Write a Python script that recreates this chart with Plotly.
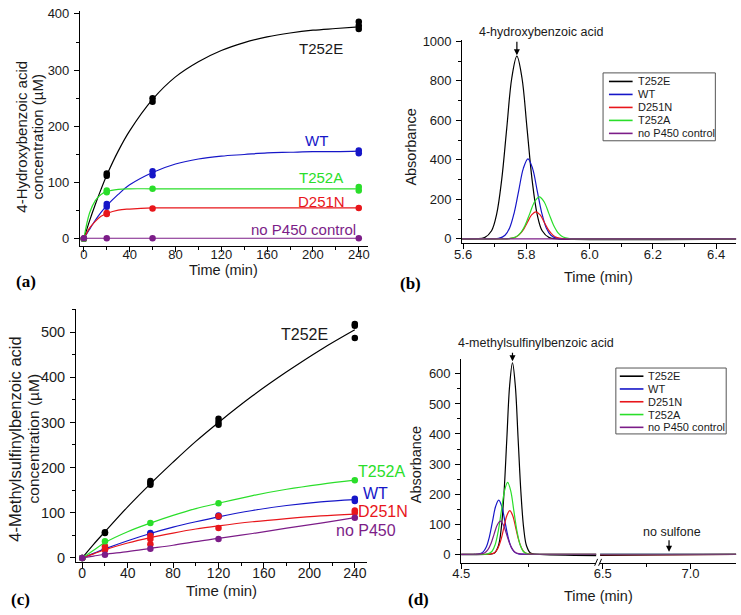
import plotly.graph_objects as go

W, H = 741, 615
FONT = "Liberation Sans, Arial, sans-serif"
SERIF = "Liberation Serif, Times New Roman, serif"
INK = "#1a1a1a"

names = ["T252E", "WT", "D251N", "T252A", "no P450 control"]
colors = ["#000000", "#1616c8", "#e8161b", "#2ade2a", "#7c1d88"]

# ---------------- (a) 4-hydroxybenzoic acid, replicate points
a_T252E_t = [0, 20, 20, 60, 60, 240, 240, 240]
a_T252E_y = [0, 112, 116, 244, 250, 373, 379, 386]
a_WT_t = [0, 20, 20, 60, 60, 240, 240]
a_WT_y = [0, 57, 62, 113, 120, 152, 157]
a_D251N_t = [0, 20, 20, 60, 240]
a_D251N_y = [0, 44, 46, 54, 55]
a_T252A_t = [0, 20, 20, 60, 240, 240]
a_T252A_y = [0, 83, 86, 89, 86, 92]
a_noP450_t = [0, 20, 60, 240]
a_noP450_y = [1, 1, 1, 1]

# fitted curves
a_fit_t = [0, 5, 10, 15, 20, 30, 40, 60, 80, 100, 120, 140, 160, 180, 200, 220, 240]
a_fit_T252E = [0, 32, 61, 88, 113, 156, 192, 248, 288, 315, 335, 349, 359, 366, 371, 374, 377]
a_fit_WT = [0, 17, 33, 47, 59, 79, 96, 118, 133, 142, 147, 150, 153, 154, 155, 155, 156]
a_fit_D251N = [0, 19, 31, 40, 45, 51, 53, 55, 55, 55, 55, 55, 55, 55, 55, 55, 55]
a_fit_T252A = [0, 46, 68, 79, 84, 88, 89, 89, 89, 89, 89, 89, 89, 89, 89, 89, 89]
a_fit_noP450 = [1, 1, 1, 1, 1, 1, 1, 1, 1, 1, 1, 1, 1, 1, 1, 1, 1]

# ---------------- (c) 4-methylsulfinylbenzoic acid, replicate points
c_T252E_t = [0, 20, 20, 60, 60, 60, 120, 120, 120, 240, 240, 240]
c_T252E_y = [0, 55, 57, 162, 166, 170, 295, 301, 308, 487, 514, 518]
c_WT_t = [0, 20, 60, 60, 120, 120, 240, 240]
c_WT_y = [0, 19, 53, 55, 91, 94, 126, 131]
c_D251N_t = [0, 20, 20, 60, 60, 60, 120, 120, 240, 240]
c_D251N_y = [0, 18, 26, 30, 42, 49, 66, 92, 100, 105]
c_T252A_t = [0, 20, 60, 120, 240]
c_T252A_y = [0, 37, 77, 121, 172]
c_noP450_t = [0, 20, 60, 120, 240]
c_noP450_y = [0, 7, 20, 42, 89]

c_fit_t = [0, 10, 20, 40, 60, 80, 100, 120, 150, 180, 210, 240]
c_fit_T252E = [0, 30, 58, 113, 164, 212, 258, 300, 359, 412, 461, 505]
c_fit_WT = [0, 10, 20, 38, 54, 68, 80, 91, 105, 116, 124, 129]
c_fit_D251N = [0, 9, 18, 33, 45, 55, 64, 71, 80, 87, 93, 97]
c_fit_T252A = [0, 17, 34, 58, 77, 94, 109, 121, 138, 152, 163, 172]
c_fit_noP450 = [0, 4, 8, 14, 21, 28, 36, 43, 54, 66, 77, 89]

# ---------------- (b) chromatograms, 4-hydroxybenzoic acid
b_T252E_t = [5.50, 5.640, 5.6676, 5.690, 5.706, 5.722, 5.738, 5.754, 5.770, 5.786, 5.802, 5.818, 5.834, 5.850, 5.8724, 5.900, 6.60]
b_T252E_y = [0, 0, 6, 41, 125, 300, 561, 816, 925, 816, 561, 300, 125, 41, 6, 0, 0]
b_WT_t = [5.50, 5.690, 5.7122, 5.7325, 5.747, 5.7615, 5.776, 5.7905, 5.805, 5.8195, 5.834, 5.8485, 5.863, 5.8775, 5.8978, 5.920, 6.60]
b_WT_y = [0, 0, 2, 18, 55, 132, 246, 357, 405, 357, 246, 132, 55, 18, 2, 0, 0]
b_D251N_t = [5.50, 5.720, 5.7436, 5.7625, 5.776, 5.7895, 5.803, 5.8165, 5.830, 5.8435, 5.857, 5.8705, 5.884, 5.8975, 5.9164, 5.940, 6.60]
b_D251N_y = [0, 0, 1, 6, 19, 44, 83, 121, 137, 121, 83, 44, 19, 6, 1, 0, 0]
b_T252A_t = [5.50, 5.720, 5.745, 5.766, 5.781, 5.796, 5.811, 5.826, 5.841, 5.856, 5.871, 5.886, 5.901, 5.916, 5.937, 5.960, 6.60]
b_T252A_y = [0, 0, 1, 9, 29, 69, 129, 188, 213, 188, 129, 69, 29, 9, 1, 0, 0]
b_noP450_t = [5.50, 6.60]
b_noP450_y = [0, 0]

# ---------------- (d) chromatograms, 4-methylsulfinylbenzoic acid
d_T252E_t = [4.40, 4.600, 4.6234, 4.638, 4.6484, 4.6588, 4.6692, 4.6796, 4.690, 4.7004, 4.7108, 4.7212, 4.7316, 4.742, 4.7566, 4.780, 7.40]
d_T252E_y = [0, 0, 4, 28, 86, 207, 386, 562, 637, 562, 386, 207, 86, 28, 4, 0, 0]
d_WT_t = [4.40, 4.545, 4.5654, 4.5815, 4.593, 4.6045, 4.616, 4.6275, 4.639, 4.6505, 4.662, 4.6735, 4.685, 4.6965, 4.7126, 4.735, 7.40]
d_WT_y = [0, 0, 1, 8, 24, 58, 109, 159, 180, 159, 109, 58, 24, 8, 1, 0, 0]
d_D251N_t = [4.40, 4.590, 4.6096, 4.625, 4.636, 4.647, 4.658, 4.669, 4.680, 4.691, 4.702, 4.713, 4.724, 4.735, 4.7504, 4.770, 7.40]
d_D251N_y = [0, 0, 1, 6, 20, 47, 88, 128, 145, 128, 88, 47, 20, 6, 1, 0, 0]
d_T252A_t = [4.40, 4.578, 4.5984, 4.6145, 4.626, 4.6375, 4.649, 4.6605, 4.672, 4.6835, 4.695, 4.7065, 4.718, 4.7295, 4.7456, 4.770, 7.40]
d_T252A_y = [0, 0, 1, 10, 32, 78, 145, 211, 239, 211, 145, 78, 32, 10, 1, 0, 0]
d_noP450_t = [4.40, 4.550, 4.5714, 4.5875, 4.599, 4.6105, 4.622, 4.6335, 4.645, 4.6565, 4.668, 4.6795, 4.691, 4.7025, 4.7186, 4.740, 7.40]
d_noP450_y = [0, 0, 1, 5, 15, 36, 67, 97, 110, 97, 67, 36, 15, 5, 1, 0, 0]


def xp(x):
    return x / W


def yp(y):
    return 1 - y / H


fig = go.Figure()

# panel (a)
a_pts = [(a_T252E_t, a_T252E_y), (a_WT_t, a_WT_y), (a_D251N_t, a_D251N_y),
         (a_T252A_t, a_T252A_y), (a_noP450_t, a_noP450_y)]
a_fits = [a_fit_T252E, a_fit_WT, a_fit_D251N, a_fit_T252A, a_fit_noP450]
for i, col in enumerate(colors):
    fig.add_trace(go.Scatter(x=a_fit_t, y=a_fits[i], mode="lines", xaxis="x", yaxis="y",
                             line=dict(color=col, width=1.2, shape="spline")))
    fig.add_trace(go.Scatter(x=a_pts[i][0], y=a_pts[i][1], mode="markers", xaxis="x", yaxis="y",
                             marker=dict(color=col, size=6.5)))

# panel (c)
c_pts = [(c_T252E_t, c_T252E_y), (c_WT_t, c_WT_y), (c_D251N_t, c_D251N_y),
         (c_T252A_t, c_T252A_y), (c_noP450_t, c_noP450_y)]
c_fits = [c_fit_T252E, c_fit_WT, c_fit_D251N, c_fit_T252A, c_fit_noP450]
for i, col in enumerate(colors):
    fig.add_trace(go.Scatter(x=c_fit_t, y=c_fits[i], mode="lines", xaxis="x3", yaxis="y3",
                             line=dict(color=col, width=1.2, shape="spline")))
    fig.add_trace(go.Scatter(x=c_pts[i][0], y=c_pts[i][1], mode="markers", xaxis="x3", yaxis="y3",
                             marker=dict(color=col, size=6.5)))

# panel (b)
b_tr = [(b_T252E_t, b_T252E_y), (b_WT_t, b_WT_y), (b_D251N_t, b_D251N_y),
        (b_T252A_t, b_T252A_y), (b_noP450_t, b_noP450_y)]
for i, col in enumerate(colors):
    fig.add_trace(go.Scatter(x=b_tr[i][0], y=b_tr[i][1], mode="lines", xaxis="x2", yaxis="y2",
                             line=dict(color=col, width=1.2, shape="spline")))

# panel (d), drawn on both halves of the broken axis
d_tr = [(d_T252E_t, d_T252E_y), (d_WT_t, d_WT_y), (d_D251N_t, d_D251N_y),
        (d_T252A_t, d_T252A_y), (d_noP450_t, d_noP450_y)]
for xa in ["x4", "x5"]:
    for i, col in enumerate(colors):
        fig.add_trace(go.Scatter(x=d_tr[i][0], y=d_tr[i][1], mode="lines", xaxis=xa, yaxis="y4",
                                 line=dict(color=col, width=1.2, shape="spline")))


def axis(domain, rng, anchor, size=13, standoff=2, **kw):
    d = dict(domain=domain, range=rng, anchor=anchor, showline=True, linecolor="black",
             linewidth=1, ticks="outside", ticklen=5, tickwidth=1, tickcolor="black",
             showgrid=False, zeroline=False, ticklabelstandoff=standoff,
             tickfont=dict(family=FONT, size=size, color=INK))
    d.update(kw)
    return d


def minor(**kw):
    return dict(ticks="outside", ticklen=3, tickwidth=1, tickcolor="black", showgrid=False, **kw)


fig.update_layout(
    width=W, height=H, margin=dict(l=0, r=0, t=0, b=0),
    paper_bgcolor="white", plot_bgcolor="white", showlegend=False,
    xaxis=axis([xp(72), xp(364)], [-3.4, 247.7], "y", standoff=-9, tick0=0, dtick=40,
               minor=minor(dtick=20)),
    yaxis=axis([yp(244), yp(5)], [-12.8, 405.3], "x", tick0=0, dtick=100, minor=minor(dtick=50)),
    xaxis2=axis([xp(460), xp(738)], [5.597, 6.463], "y2", standoff=-5, tick0=5.6, dtick=0.2,
                tickformat=".1f", minor=minor(dtick=0.1)),
    yaxis2=axis([yp(240.7), yp(35)], [-20, 1005], "x2", tick0=0, dtick=200, minor=minor(dtick=100)),
    xaxis3=axis([xp(68), xp(363)], [-5.5, 250.4], "y3", size=14, standoff=-7, tick0=0, dtick=40,
                minor=minor(dtick=20)),
    yaxis3=axis([yp(565.5), yp(308)], [-9.8, 551.2], "x3", size=14.5, tick0=0, dtick=100,
                minor=minor(dtick=50)),
    xaxis4=axis([xp(459), xp(596)], [4.5, 5.0], "y4", standoff=-6, tickvals=[4.5], tickformat=".1f",
                minor=minor(tickvals=[4.75])),
    xaxis5=axis([xp(600), xp(738)], [6.485, 7.26], "y4", standoff=-6, tickvals=[6.5, 7.0],
                tickformat=".1f", minor=minor(tickvals=[6.75])),
    yaxis4=axis([yp(565.7), yp(359.3)], [-27.5, 648], "x4", tick0=0, dtick=100, minor=minor(dtick=50)),
)

ann = []


def txt(text, x, y, size, xanchor="center", color=INK, angle=0, family=FONT,
        xref="paper", yref="paper", bold=False):
    if bold:
        text = "<b>" + text + "</b>"
    ann.append(dict(text=text, x=x, y=y, xref=xref, yref=yref, xanchor=xanchor, yanchor="middle",
                    showarrow=False, textangle=angle, font=dict(family=family, size=size, color=color)))


# axis titles
txt("4-Hydroxybenzoic acid", xp(13), yp(133), 15, angle=-90)
txt("concentration (\u00b5M)", xp(29), yp(133), 15, angle=-90)
txt("Time (min)", xp(218), yp(268), 14.5)
txt("Absorbance", xp(408), yp(143), 14.5, angle=-90)
txt("Time (min)", xp(598), yp(275), 14.5)
txt("4-Methylsulfinylbenzoic acid", xp(6), yp(440), 16.5, angle=-90)
txt("concentration (\u00b5M)", xp(25), yp(440), 15.5, angle=-90)
txt("Time (min)", xp(216), yp(594), 15)
txt("Absorbance", xp(414), yp(466), 14.5, angle=-90)
txt("Time (min)", xp(598), yp(600), 14.5)

# panel letters
txt("(a)", xp(5), yp(280), 17, xanchor="left", family=SERIF, bold=True, color="black")
txt("(b)", xp(395), yp(282), 17, xanchor="left", family=SERIF, bold=True, color="black")
txt("(c)", xp(0), yp(603), 17, xanchor="left", family=SERIF, bold=True, color="black")
txt("(d)", xp(403), yp(603), 17, xanchor="left", family=SERIF, bold=True, color="black")

# curve labels (a)
a_lab_x = [207.3, 203.4, 207.3, 206.9, 191.4]
a_lab_y = [338.8, 174.4, 65.9, 109.7, 17]
for i, n in enumerate(names):
    txt(n, a_lab_x[i], a_lab_y[i], 15, color=colors[i] if i else INK, xref="x", yref="y")

# curve labels (c)
c_lab = ["T252E", "WT", "D251N", "T252A", "no P450"]
c_lab_x = [195.3, 245.2, 240.8, 240.8, 221.8]
c_lab_y = [494.6, 141.6, 102.4, 191.7, 61]
for i, n in enumerate(c_lab):
    txt(n, c_lab_x[i], c_lab_y[i], 16, xanchor="center" if i == 0 else "left",
        color=colors[i] if i else INK, xref="x3", yref="y3")

# peak annotations
txt("4-hydroxybenzoic acid", xp(540), yp(26), 12.5)
txt("4-methylsulfinylbenzoic acid", xp(535), yp(343), 12.5)
txt("no sulfone", xp(673), yp(535), 12.5)
for x, y, xr, yr, ay in [(5.770, 930, "x2", "y2", -15), (4.690, 642, "x4", "y4", -10),
                         (6.878, 8, "x5", "y4", -13)]:
    ann.append(dict(x=x, y=y, xref=xr, yref=yr, text="", showarrow=True, arrowhead=2,
                    arrowsize=1, arrowwidth=1.2, arrowcolor="black", ax=0, ay=ay))

shapes = []
# axis break marks on panel (d)
for x0 in [594.5, 598.5]:
    shapes.append(dict(type="line", xref="paper", yref="paper", x0=xp(x0), y0=yp(569),
                       x1=xp(x0 + 3), y1=yp(562), line=dict(color="black", width=1)))

# legends for (b) and (d)
for bx0, bx1, by0, by1, row0, step, lx0 in [(603, 717, 68, 137, 76.7, 13.2, 609),
                                             (616, 728, 368, 435, 376.3, 13.0, 620)]:
    shapes.append(dict(type="rect", xref="paper", yref="paper", x0=xp(bx0), x1=xp(bx1),
                       y0=yp(by1), y1=yp(by0), line=dict(color="#555555", width=1)))
    for i, n in enumerate(names):
        yy = row0 + i * step
        shapes.append(dict(type="line", xref="paper", yref="paper", x0=xp(lx0), x1=xp(lx0 + 24),
                           y0=yp(yy), y1=yp(yy), line=dict(color=colors[i], width=1.6)))
        txt(n, xp(lx0 + 27), yp(yy), 11, xanchor="left")

fig.update_layout(annotations=ann, shapes=shapes)
fig.update_traces(hoverinfo="skip")

fig.write_html("out.html", config={"displayModeBar": False},
               post_script="document.body.style.margin = '0';")
